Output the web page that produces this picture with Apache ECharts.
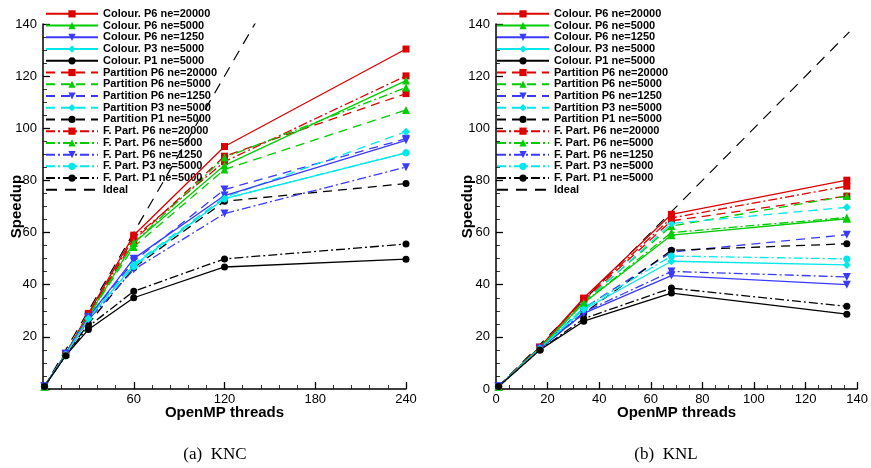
<!DOCTYPE html>
<html><head><meta charset="utf-8">
<script src="https://cdn.jsdelivr.net/npm/echarts@6/dist/echarts.min.js"></script>
<style>html,body{margin:0;padding:0;background:#fff}#c{width:871px;height:468px}</style>
</head><body><div id="c"></div>
<script>
// ---- data ----
const seriesNames = ['Colour. P6 ne=20000','Colour. P6 ne=5000','Colour. P6 ne=1250','Colour. P3 ne=5000','Colour. P1 ne=5000',
  'Partition P6 ne=20000','Partition P6 ne=5000','Partition P6 ne=1250','Partition P3 ne=5000','Partition P1 ne=5000',
  'F. Part. P6 ne=20000','F. Part. P6 ne=5000','F. Part. P6 ne=1250','F. Part. P3 ne=5000','F. Part. P1 ne=5000'];
const idealName = 'Ideal';

const kncThreads = [1, 15, 30, 60, 120, 240];
const kncColourP6_20000 = [1, 13.5, 29, 59, 93, 130.4];
const kncColourP6_5000  = [1, 13.5, 28, 56, 85.8, 118.3];
const kncColourP6_1250  = [1, 13.5, 27.5, 50, 74.2, 95.4];
const kncColourP3_5000  = [1, 13.2, 27, 47.5, 73, 90.6];
const kncColourP1_5000  = [1, 12.8, 22.8, 35, 46.8, 49.8];
const kncPartP6_20000   = [1, 13.5, 28.5, 57, 89.3, 113.3];
const kncPartP6_5000    = [1, 13.5, 28, 54.5, 84.2, 107];
const kncPartP6_1250    = [1, 13.5, 27.5, 49, 76.5, 96];
const kncPartP3_5000    = [1, 13.3, 27, 48, 73.5, 98.7];
const kncPartP1_5000    = [1, 13, 25, 46.5, 72, 78.8];
const kncFPartP6_20000  = [1, 13.5, 28.5, 58, 87.2, 120.1];
const kncFPartP6_5000   = [1, 13.5, 28, 56, 88.8, 115.6];
const kncFPartP6_1250   = [1, 13.2, 26.5, 45.8, 67.3, 85.1];
const kncFPartP3_5000   = [1, 13.3, 27.3, 47, 73, 90.6];
const kncFPartP1_5000   = [1, 12.8, 24, 37.5, 49.9, 55.6];
const kncIdealX = [0, 240];
const kncIdealY = [0, 240];

const knlThreads = [1, 17, 34, 68, 136];
const knlColourP6_20000 = [1, 16, 34.9, 67, 80.1];
const knlColourP6_5000  = [1, 15.8, 33, 59, 65.3];
const knlColourP6_1250  = [1, 15.5, 29, 43.5, 40];
const knlColourP3_5000  = [1, 15.5, 30.5, 49, 47.6];
const knlColourP1_5000  = [1, 15, 26, 36.8, 28.7];
const knlPartP6_20000   = [1, 16, 34, 64.5, 74];
const knlPartP6_5000    = [1, 16, 33.5, 62.5, 74];
const knlPartP6_1250    = [1, 15.8, 31, 52.5, 59.2];
const knlPartP3_5000    = [1, 16, 33, 63.5, 69.7];
const knlPartP1_5000    = [1, 15.5, 29, 53.2, 55.7];
const knlFPartP6_20000  = [1, 16, 34.5, 65.6, 77.8];
const knlFPartP6_5000   = [1, 15.8, 33, 60, 65.8];
const knlFPartP6_1250   = [1, 15.5, 29.5, 45.1, 43];
const knlFPartP3_5000   = [1, 15.7, 31, 51, 49.9];
const knlFPartP1_5000   = [1, 15, 27, 38.7, 31.7];
const knlIdealX = [0, 137];
const knlIdealY = [0, 137];

const kncYTicks = [0, 20, 40, 60, 80, 100, 120, 140];
const kncXTicks = [0, 60, 120, 180, 240];
const knlXTicks = [0, 20, 40, 60, 80, 100, 120, 140];

// ---- styles ----
const RED = '#dd0000', GREEN = '#00cc00', BLUE = '#3a3aff', CYAN = '#00e8e8', BLACK = '#000000';
const DOWN = 'path://M0,0L10,0L5,10Z';
const styleDefs = [
  [RED,'solid','rect'],[GREEN,'solid','triangle'],[BLUE,'solid',DOWN],[CYAN,'solid','diamond'],[BLACK,'solid','circle'],
  [RED,[9,6],'rect'],[GREEN,[9,6],'triangle'],[BLUE,[9,6],DOWN],[CYAN,[9,6],'diamond'],[BLACK,[9,6],'circle'],
  [RED,[9,3,2,3],'rect'],[GREEN,[9,3,2,3],'triangle'],[BLUE,[9,3,2,3],DOWN],[CYAN,[9,3,2,3],'circle'],[BLACK,[9,3,2,3],'circle']
];

const kncData = [kncColourP6_20000,kncColourP6_5000,kncColourP6_1250,kncColourP3_5000,kncColourP1_5000,
  kncPartP6_20000,kncPartP6_5000,kncPartP6_1250,kncPartP3_5000,kncPartP1_5000,
  kncFPartP6_20000,kncFPartP6_5000,kncFPartP6_1250,kncFPartP3_5000,kncFPartP1_5000];
const knlData = [knlColourP6_20000,knlColourP6_5000,knlColourP6_1250,knlColourP3_5000,knlColourP1_5000,
  knlPartP6_20000,knlPartP6_5000,knlPartP6_1250,knlPartP3_5000,knlPartP1_5000,
  knlFPartP6_20000,knlFPartP6_5000,knlFPartP6_1250,knlFPartP3_5000,knlFPartP1_5000];

function buildSeries(xs, ys, idx, idealX, idealY) {
  const out = [];
  ys.forEach((arr, i) => {
    const [c, t, s] = styleDefs[i];
    out.push({
      name: seriesNames[i], type: 'line', xAxisIndex: idx, yAxisIndex: idx,
      data: xs.map((x, k) => [x, arr[k]]),
      symbol: s, symbolSize: s === 'circle' ? 7 : (s === 'rect' ? 7 : 8),
      lineStyle: { color: c, width: 1.3, type: t },
      itemStyle: { color: c },
      z: i < 5 ? 4 : 3, animation: false
    });
  });
  out.push({
    name: idealName, type: 'line', xAxisIndex: idx, yAxisIndex: idx,
    data: idealX.map((x, k) => [x, idealY[k]]),
    symbol: 'none', lineStyle: { color: BLACK, width: 1.2, type: [11, 8] },
    itemStyle: { color: BLACK }, z: 2, animation: false
  });
  return out;
}

const legendData = seriesNames.map(n => ({ name: n })).concat([{ name: idealName, itemStyle: { color: 'rgba(0,0,0,0)', borderWidth: 0 } }]);
function legend(left) {
  return {
    orient: 'vertical', left: left, top: 8, padding: 0, itemWidth: 52, itemHeight: 9, itemGap: 0,
    data: legendData, selectedMode: false,
    textStyle: { fontFamily: 'Liberation Sans, Arial, sans-serif', fontWeight: 'bold', fontSize: 11, color: '#000', lineHeight: 11.73 }
  };
}

const axisFont = { fontFamily: 'Liberation Sans, Arial, sans-serif', fontSize: 13, color: '#000' };
const nameFont = { fontFamily: 'Liberation Sans, Arial, sans-serif', fontSize: 15, fontWeight: 'bold', color: '#000' };
function xAxis(idx, ticks, minorSplit, showZero) {
  return {
    type: 'value', gridIndex: idx, min: ticks[0], max: ticks[ticks.length - 1], interval: ticks[1] - ticks[0],
    name: 'OpenMP threads', nameLocation: 'middle', nameGap: 16.5, nameMoveOverlap: false, nameTextStyle: nameFont,
    axisLine: { lineStyle: { color: '#000', width: 1.5 } },
    axisTick: { inside: true, length: 7, lineStyle: { color: '#000', width: 1.3 } },
    minorTick: { show: true, splitNumber: minorSplit, length: 4, lineStyle: { color: '#000', width: 0.8 } },
    axisLabel: Object.assign({ margin: 4, formatter: v => (v === 0 && !showZero) ? '' : String(v) }, axisFont),
    splitLine: { show: false }
  };
}
function yAxis(idx, showZero, gap) {
  return {
    type: 'value', gridIndex: idx, min: kncYTicks[0], max: kncYTicks[kncYTicks.length - 1], interval: kncYTicks[1] - kncYTicks[0],
    name: 'Speedup', nameLocation: 'middle', nameGap: gap, nameMoveOverlap: false, nameTextStyle: nameFont,
    axisLine: { lineStyle: { color: '#000', width: 1.5 } },
    axisTick: { inside: true, length: 7, lineStyle: { color: '#000', width: 1.3 } },
    minorTick: { show: true, splitNumber: 4, length: 4, lineStyle: { color: '#000', width: 0.8 } },
    axisLabel: Object.assign({ margin: 6, formatter: v => (v === 0 && !showZero) ? '' : String(v) }, axisFont),
    splitLine: { show: false }
  };
}

const chart = echarts.init(document.getElementById('c'), null, { renderer: 'canvas' });
chart.setOption({
  animation: false,
  backgroundColor: '#fff',
  grid: [
    { left: 43, right: 465, top: 24, bottom: 79 },
    { left: 496, right: 13, top: 24, bottom: 79 }
  ],
  xAxis: [xAxis(0, kncXTicks, 5, false), xAxis(1, knlXTicks, 4, true)],
  yAxis: [yAxis(0, false, 19), yAxis(1, true, 20.5)],
  legend: [legend(45), legend(496)],
  series: buildSeries(kncThreads, kncData, 0, kncIdealX, kncIdealY)
    .concat(buildSeries(knlThreads, knlData, 1, knlIdealX, knlIdealY)),
  graphic: [
    { type: 'text', x: 215, y: 455, style: { text: '(a)  KNC', font: '17px "Liberation Serif", "DejaVu Serif", serif', fill: '#000', align: 'center', verticalAlign: 'middle' } },
    { type: 'text', x: 666, y: 455, style: { text: '(b)  KNL', font: '17px "Liberation Serif", "DejaVu Serif", serif', fill: '#000', align: 'center', verticalAlign: 'middle' } }
  ]
});
</script></body></html>
